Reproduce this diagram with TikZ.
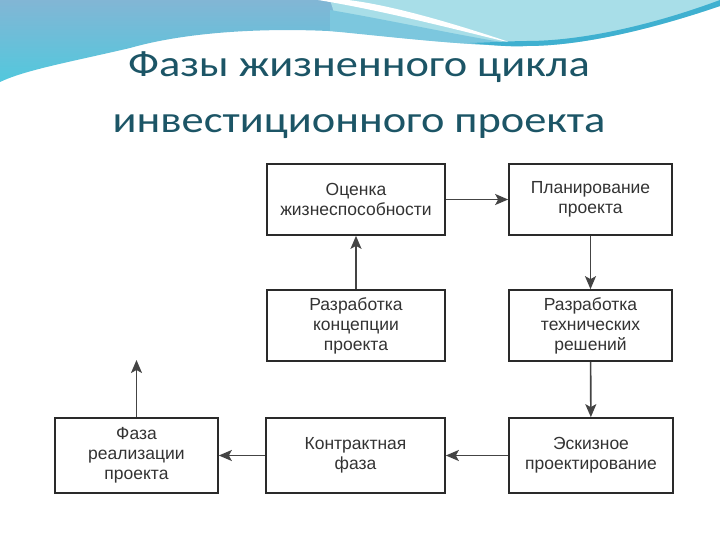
\documentclass[tikz,border=0pt]{standalone}
\usepackage{fontspec}
\setmainfont{Liberation Sans}
\newfontfamily\titlefont[FakeStretch=1.2]{Carlito}
\usetikzlibrary{arrows.meta}
\definecolor{wavetop}{HTML}{82B6D5}
\definecolor{wavebot}{HTML}{52C8DD}
\definecolor{cyanlight}{HTML}{A8DEE8}
\definecolor{tealmid}{HTML}{7CC7DE}
\definecolor{tealdark}{HTML}{3FB0D0}
\definecolor{titlecol}{HTML}{1C5566}
\definecolor{boxline}{HTML}{2A2A2A}
\definecolor{boxtext}{HTML}{333333}
\definecolor{connline}{HTML}{444444}
\tikzset{
  phasebox/.style={draw=boxline, line width=1.7pt, fill=white, text=boxtext,
    align=center, inner sep=0pt, minimum height=71pt,
    font=\fontsize{17.5}{20}\selectfont},
  conn/.style={draw=connline, line width=1.6pt,
    -{Stealth[length=13pt,width=11pt,inset=3pt]}},
}
\begin{document}
\begin{tikzpicture}[x=1pt,y=-1pt]
\useasboundingbox (0,0) rectangle (720,540);
\fill[white] (0,0) rectangle (720,540);
% wave decoration
\shade[top color=wavetop, bottom color=wavebot]
  (0,0) -- (370,0) -- (370,34) .. controls (300,27) and (200,28) .. (130,48)
  .. controls (70,62) and (25,70) .. (0,82) -- cycle;
\fill[cyanlight] (330,0) -- (720,0) -- (720,6)
  .. controls (650,30) and (580,46) .. (527,46)
  .. controls (470,46) and (400,38) .. (340,31) -- cycle;
\fill[tealmid] (330,10) .. controls (400,22) and (470,38) .. (527,46)
  .. controls (470,46) and (400,38) .. (330,31) -- cycle;
\fill[white] (318,0) .. controls (380,10) and (450,28) .. (515,44)
  .. controls (450,22) and (390,5) .. (348,0) -- cycle;
\fill[tealdark] (470,43) .. controls (500,46) and (515,47) .. (527,46)
  .. controls (580,46) and (650,30) .. (720,6) -- (720,0)
  .. controls (650,26) and (580,41) .. (527,41)
  .. controls (515,41) and (500,42) .. (470,43) -- cycle;
% title
\node[text=titlecol, font=\titlefont\fontsize{37}{37}\selectfont, anchor=base]
  (t1) at (359,77) {Фазы жизненного цикла};
\node[text=titlecol, font=\titlefont\fontsize{37}{37}\selectfont, anchor=base]
  (t2) at (359,133) {инвестиционного проекта};
% boxes
\node[phasebox, minimum width=178pt] (ocenka) at (356,199.5) {Оценка\\жизнеспособности};
\node[phasebox, minimum width=163pt] (plan) at (590.5,199.5) {Планирование\\проекта};
\node[phasebox, minimum width=178pt] (konc) at (356,325.5) {Разработка\\концепции\\проекта};
\node[phasebox, minimum width=163pt] (tech) at (590.5,325.5) {Разработка\\технических\\решений};
\node[phasebox, minimum width=163pt, minimum height=75pt] (faza) at (136.5,455.5) {Фаза\\реализации\\проекта};
\node[phasebox, minimum width=179pt, minimum height=75pt] (kontr) at (355.5,455.5) {Контрактная\\фаза};
\node[phasebox, minimum width=164pt, minimum height=75pt] (eskiz) at (591,455.5) {Эскизное\\проектирование};
\coordinate (up) at (136.5,360);
% connectors
\draw[conn] (ocenka) -- (plan);
\draw[conn] (plan) -- (tech);
\draw[conn] (tech) -- (eskiz);
\draw[conn] (eskiz) -- (kontr);
\draw[conn] (kontr) -- (faza);
\draw[conn] (konc) -- (ocenka);
\draw[conn] (faza.north) -- (up);
\end{tikzpicture}
\end{document}
